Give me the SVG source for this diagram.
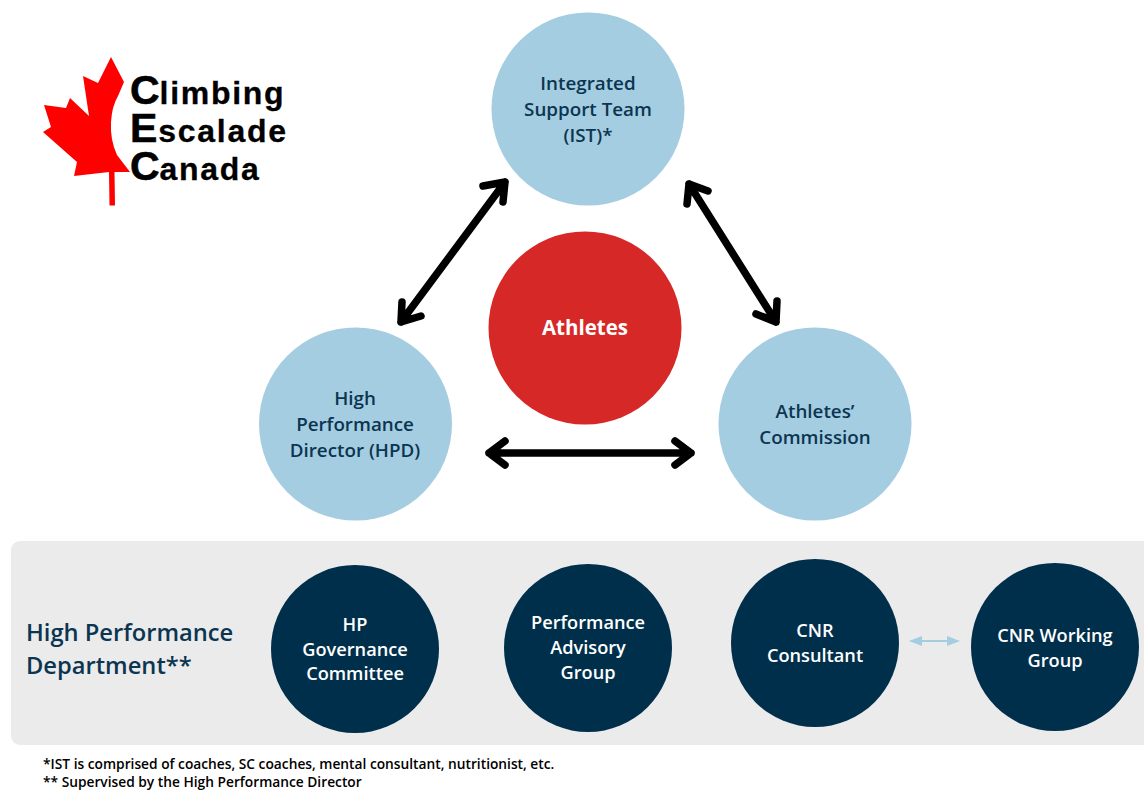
<svg xmlns="http://www.w3.org/2000/svg" width="1144" height="790" viewBox="0 0 1144 790">
<style>
text{font-family:"Open Sans","Noto Sans","Liberation Sans",sans-serif;font-weight:600;text-anchor:middle}
.l{fill:#a5cde1}.d{fill:#002f4b}
.lt{fill:#0b3551;font-size:18.8px}
.dt{fill:#fff;font-size:18.2px}
text.logo{font-family:"Liberation Sans",sans-serif;font-weight:700;fill:#000;text-anchor:start;font-size:41px;stroke:#000;stroke-width:.6px}
.s{font-size:32px;letter-spacing:1.7px;stroke-width:.3px}
.a{fill:none;stroke:#000;stroke-width:7.500px;stroke-linecap:round;stroke-linejoin:round}
text.fn{fill:#000;font-size:13.75px;text-anchor:start}
</style>
<rect x="11" y="541" width="1150" height="204" rx="9" fill="#ebebeb"/>
<g id="logo">
<path d="M111 57L124 82 118 96Q112 106 111 122Q110 140 117 155L130 172 114.500 172 115 205.500 109.500 205.500 109 172 74 176 77 162 43 132 51 127 44 105 66 108 70 98 89 116 83 76 98 83Z" fill="#f00"/>
<text class="logo" x="130" y="104">C<tspan class="s">limbing</tspan></text>
<text class="logo" x="130" y="142">E<tspan class="s" dx="1">scalade</tspan></text>
<text class="logo" x="130" y="180">C<tspan class="s">anada</tspan></text>
</g>
<g id="connectors">
<path class="a" d="M505 182L401 322M483 186L505 182 503 202M401 322L402 302M401 322L421 316"/>
<path class="a" d="M689 184L776 322M689 184L687 204M689 184L708 191M776 322L777 301M776 322L756 314"/>
<path class="a" d="M489 453H691M505 441L489 453 505 465M675 441L691 453 675 465"/>
<path d="M911 641H958" fill="none" stroke="#a5cde1" stroke-width="2"/>
<path d="M909 641L922 636V646ZM960 641L947 636V646Z" fill="#a5cde1"/>
</g>
<g id="ist"><circle class="l" cx="588" cy="109" r="96.500"/>
<text class="lt" x="588" y="90">Integrated</text><text class="lt" x="588" y="116">Support Team</text><text class="lt" x="588" y="142">(IST)*</text></g>
<g id="athletes"><circle cx="585" cy="328" r="96.500" fill="#d72828"/>
<text x="585" y="335" fill="#fff" font-size="20.500" style="font-weight:700">Athletes</text></g>
<g id="hpd"><circle class="l" cx="355.500" cy="424" r="96.500"/>
<text class="lt" x="355" y="405">High</text><text class="lt" x="355" y="431">Performance</text><text class="lt" x="355" y="457">Director (HPD)</text></g>
<g id="commission"><circle class="l" cx="815" cy="424" r="96.500"/>
<text class="lt" x="815" y="418">Athletes’</text><text class="lt" x="815" y="444">Commission</text></g>
<g id="dept"><text x="26" y="641" fill="#0b3551" font-size="23.700" style="text-anchor:start">High Performance</text>
<text x="26" y="674" fill="#0b3551" font-size="23.700" style="text-anchor:start">Department**</text></g>
<g id="governance"><circle class="d" cx="355" cy="649" r="84"/>
<text class="dt" x="355" y="631">HP</text><text class="dt" x="355" y="656">Governance</text><text class="dt" x="355" y="680">Committee</text></g>
<g id="advisory"><circle class="d" cx="588" cy="648" r="84"/>
<text class="dt" x="588" y="629">Performance</text><text class="dt" x="588" y="654">Advisory</text><text class="dt" x="588" y="679">Group</text></g>
<g id="consultant"><circle class="d" cx="815" cy="643" r="84"/>
<text class="dt" x="815" y="637">CNR</text><text class="dt" x="815" y="662">Consultant</text></g>
<g id="working"><circle class="d" cx="1055" cy="647" r="84"/>
<text class="dt" x="1055" y="642">CNR Working</text><text class="dt" x="1055" y="667">Group</text></g>
<g id="notes"><text class="fn" x="43" y="768.500">*IST is comprised of coaches, SC coaches, mental consultant, nutritionist, etc.</text>
<text class="fn" x="43" y="787">** Supervised by the High Performance Director</text></g>
</svg>
